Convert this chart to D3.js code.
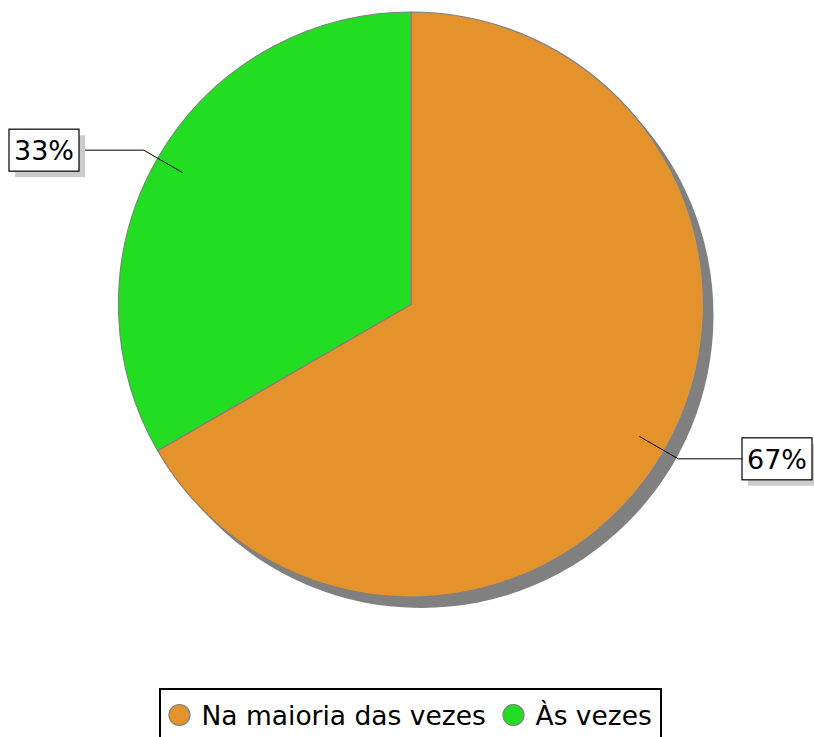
<!DOCTYPE html>
<html>
<head>
<meta charset="utf-8">
<script src="https://cdn.jsdelivr.net/npm/d3@7"></script>
<style>
  html, body { margin: 0; padding: 0; background: #fff; }
  svg { display: block; font-family: "DejaVu Sans", sans-serif; }
</style>
</head>
<body>
<svg id="chart" width="814" height="737"></svg>
<script>
const categories = ["Na maioria das vezes", "Às vezes"];
const values = [66.67, 33.33];
const colors = ["#E4922B", "#22DD22"];

const W = 814, H = 737;
const cx = 411, cy = 304.5, R = 292.5;
const svg = d3.select("#chart");

const data = categories.map((c, i) => ({ name: c, value: values[i], color: colors[i] }));
const total = d3.sum(values);
const pct = d3.format(".0%");

const pie = d3.pie().sort(null).value(d => d.value).startAngle(0).endAngle(2 * Math.PI);
const arcs = pie(data);
const arc = d3.arc().innerRadius(0).outerRadius(R);

const g = svg.append("g").attr("transform", `translate(${cx},${cy})`);

// shadow
g.append("circle").attr("cx", 10).attr("cy", 11).attr("r", R).attr("fill", "#808080");

g.selectAll("path.slice").data(arcs).enter().append("path")
  .attr("class", "slice")
  .attr("d", arc)
  .attr("fill", d => d.data.color)
  .attr("stroke", "#808080")
  .attr("stroke-width", 1.2);

// labels with leader lines
const inner = d3.arc().innerRadius(R * 0.902).outerRadius(R * 0.902);
const elbow = d3.arc().innerRadius(R * 1.055).outerRadius(R * 1.055);
const boxW = 70, boxH = 42;

arcs.forEach(d => {
  const p1 = inner.centroid(d);
  const p2 = elbow.centroid(d);
  const right = p2[0] > 0;
  const bx = right ? (812 - boxW - cx) : (9 - cx);
  const lineEnd = right ? bx : bx + boxW;
  g.append("polyline")
    .attr("points", [p1, p2, [lineEnd, p2[1]]].map(p => p.join(",")).join(" "))
    .attr("fill", "none").attr("stroke", "#000").attr("stroke-width", 1);
  const by = p2[1] - boxH / 2;
  g.append("rect").attr("x", bx + 6).attr("y", by + 6).attr("width", boxW).attr("height", boxH)
    .attr("fill", "#cccccc");
  g.append("rect").attr("x", bx).attr("y", by).attr("width", boxW).attr("height", boxH)
    .attr("fill", "#fff").attr("stroke", "#000").attr("stroke-width", 1.2);
  g.append("text").attr("x", bx + boxW / 2).attr("y", p2[1] + 10)
    .attr("text-anchor", "middle").attr("font-size", 27).attr("fill", "#000")
    .text(pct(d.data.value / total));
});

// legend
const leg = svg.append("g");
leg.append("rect").attr("x", 160).attr("y", 689).attr("width", 501).attr("height", 70)
  .attr("fill", "#fff").attr("stroke", "#000").attr("stroke-width", 2);
const legX = [179.5, 513.5];
data.forEach((d, i) => {
  leg.append("circle").attr("cx", legX[i]).attr("cy", 715).attr("r", 10.5)
    .attr("fill", d.color).attr("stroke", "#808080").attr("stroke-width", 1.2);
  leg.append("text").attr("x", legX[i] + 22).attr("y", 724.5)
    .attr("font-size", 26.5).attr("fill", "#000").text(d.name);
});
</script>
</body>
</html>
